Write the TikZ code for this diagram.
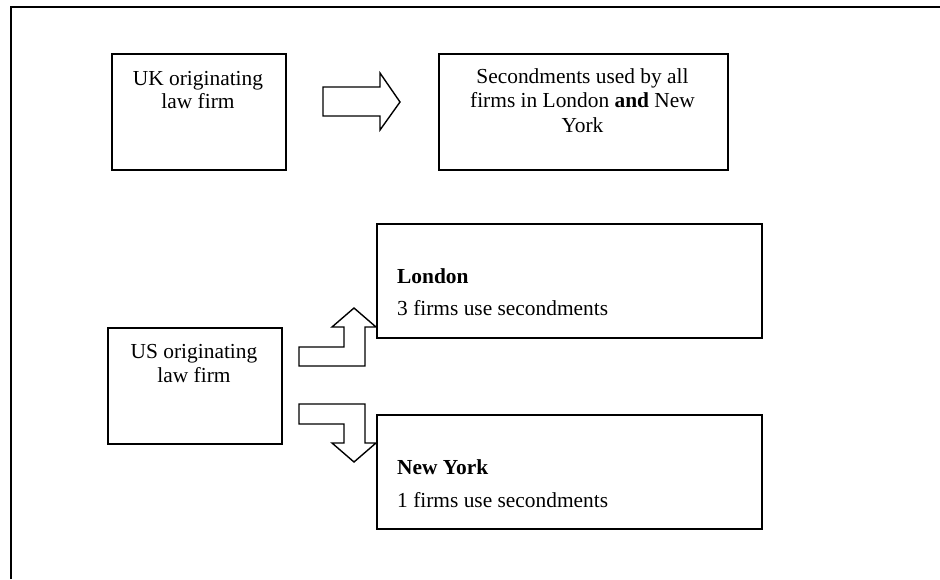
\documentclass[tikz,border=0pt]{standalone}
\usepackage{fontspec}
\setmainfont{Liberation Serif}
\begin{document}
\begin{tikzpicture}[x=1pt,y=-1pt,
  box/.style={draw,line width=1.8pt,minimum width=#1,anchor=north west,inner sep=0pt},
  txt/.style={font=\fontsize{21.4}{24}\selectfont,inner sep=0pt},
  blockarrow/.style={draw,line width=1.4pt,fill=white,line join=miter}]
\useasboundingbox (0,0) rectangle (940,579);
% outer frame
\draw[line width=1.5pt] (11,579) -- (11,7) -- (940,7);
% boxes
\node[box=174pt,minimum height=116pt] (uk) at (111,53) {};
\node[box=289pt,minimum height=116pt] (sec) at (438,53) {};
\node[box=174pt,minimum height=116pt] (us) at (107,327) {};
\node[box=385pt,minimum height=114pt] (lon) at (376,223) {};
\node[box=385pt,minimum height=114pt] (ny) at (376,414) {};
% texts (anchor base = baseline of the last line)
\node[txt,align=center,anchor=base] (uktxt) at (198,108) {UK originating\\[-1pt]law firm};
\node[txt,align=center,anchor=base] (sectxt) at (582.5,132) {Secondments used by all\\[0.5pt]firms in London \textbf{and} New\\[0.5pt]York};
\node[txt,align=center,anchor=base] (ustxt) at (194,382) {US originating\\law firm};
\node[txt,anchor=base west] (lonhead) at (397,283) {\textbf{London}};
\node[txt,anchor=base west] (lonline) at (397,315) {3 firms use secondments};
\node[txt,anchor=base west] (nyhead) at (397,474) {\textbf{New York}};
\node[txt,anchor=base west] (nyline) at (397,507) {1 firms use secondments};
% right block arrow
\draw[blockarrow] (323,87) -- (380,87) -- (380,73) -- (400,102) -- (380,130) -- (380,116) -- (323,116) -- cycle;
% bent up arrow
\draw[blockarrow] (299,347) -- (344,347) -- (344,327) -- (332,327) -- (354,308) -- (376,327) -- (365,327) -- (365,366) -- (299,366) -- cycle;
% bent down arrow
\draw[blockarrow] (299,404) -- (365,404) -- (365,443) -- (376,443) -- (354,462) -- (332,443) -- (344,443) -- (344,424) -- (299,424) -- cycle;
\end{tikzpicture}
\end{document}
